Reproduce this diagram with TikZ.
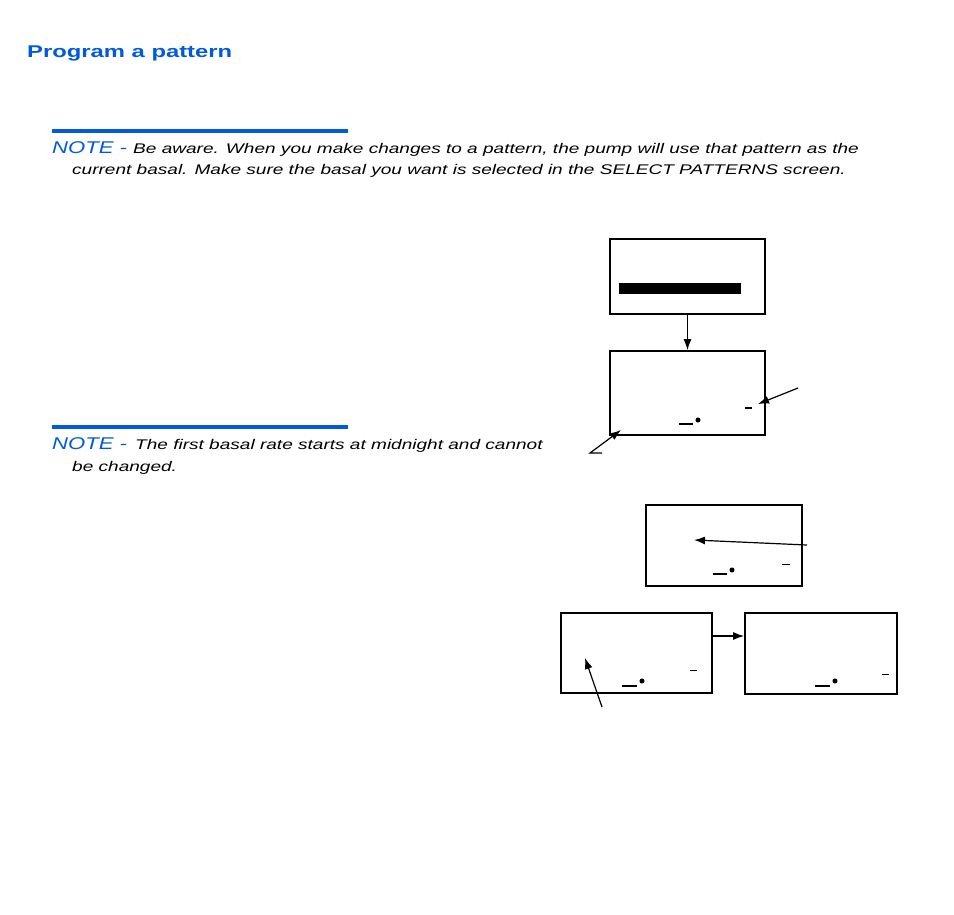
\documentclass[tikz,border=0pt]{standalone}
\usepackage{fontspec}
\setmainfont{Liberation Sans}
\newfontfamily\widefont[FakeStretch=1.36]{Liberation Sans}
\newfontfamily\headfont[FakeStretch=1.3]{Liberation Sans}
\newfontfamily\titlefont[FakeStretch=1.4]{Liberation Sans}
\usetikzlibrary{arrows.meta}
\definecolor{blu}{RGB}{0,90,220}
\begin{document}
\begin{tikzpicture}[x=1pt,y=-1pt,
  scr/.style={draw,line width=1.8pt},
  arr/.style={-{Latex[length=11pt,width=8pt]},line width=1.2pt},
  note/.style={anchor=base west,inner sep=0,font=\widefont\itshape\fontsize{14}{16}\selectfont},
  notehead/.style={anchor=base west,inner sep=0,text=blu,font=\headfont\itshape\fontsize{17}{18}\selectfont},
  bar/.style={draw=blu,line width=4pt},
  dsh/.style={line width=2pt},
  dt/.style={fill,circle,inner sep=1.8pt}]
\useasboundingbox (0,0) rectangle (954,914);
\node[anchor=base west,inner sep=0,text=blu,font=\titlefont\bfseries\fontsize{17}{19}\selectfont] (title) at (27,57) {Program a pattern};
\draw[bar] (52,131) -- (348,131);
\node[notehead] (n1) at (52,153) {NOTE -};
\node[note] (n1a) at (133,153) {Be aware. When you make changes to a pattern, the pump will use that pattern as the};
\node[note] (n1b) at (72,174) {current basal. Make sure the basal you want is selected in the SELECT PATTERNS screen.};
\draw[bar] (52,427) -- (348,427);
\node[notehead] (n2) at (52,449) {NOTE -};
\node[note] (n2a) at (135,449) {The first basal rate starts at midnight and cannot};
\node[note] (n2b) at (72,471) {be changed.};
% screens
\node[scr,minimum width=155pt,minimum height=75pt,inner sep=0] (s1) at (687.5,276.5) {};
\fill (619,283) rectangle (741,294);
\node[scr,minimum width=155pt,minimum height=84pt,inner sep=0] (s2) at (687.5,393) {};
\node[scr,minimum width=156pt,minimum height=81pt,inner sep=0] (s3) at (724,545.5) {};
\node[scr,minimum width=151pt,minimum height=80pt,inner sep=0] (s4) at (636.5,653) {};
\node[scr,minimum width=152pt,minimum height=81pt,inner sep=0] (s5) at (821,653.5) {};
\draw[arr] (s1.south) -- (s2.north);
\draw[arr] (s4.east |- 0,636) -- (s5.west |- 0,636);
% details
\draw[dsh] (745,408) -- (752,408);
\draw[dsh] (679,424) -- (693,424); \node[dt] (d2) at (698,420) {};
\draw[line width=1pt] (782,564) -- (790,564);
\draw[dsh] (713,574) -- (727,574); \node[dt] (d3) at (732,570) {};
\draw[line width=1pt] (690,670) -- (697,670);
\draw[dsh] (622,686) -- (637,686); \node[dt] (d4) at (642,681) {};
\draw[line width=1pt] (882,674) -- (889,674);
\draw[dsh] (815,686) -- (830,686); \node[dt] (d5) at (835,681) {};
% callout arrows
\coordinate (c1) at (798,388); \coordinate (t1) at (758,404);
\draw[arr] (c1) -- (t1);
\coordinate (c2a) at (602,453); \coordinate (c2) at (590,453); \coordinate (t2) at (621,430);
\draw[arr] (c2a) -- (c2) -- (t2);
\coordinate (c3) at (807,545); \coordinate (t3) at (694,540);
\draw[arr] (c3) -- (t3);
\coordinate (c4) at (602,707); \coordinate (t4) at (585,658);
\draw[arr] (c4) -- (t4);
\end{tikzpicture}
\end{document}
